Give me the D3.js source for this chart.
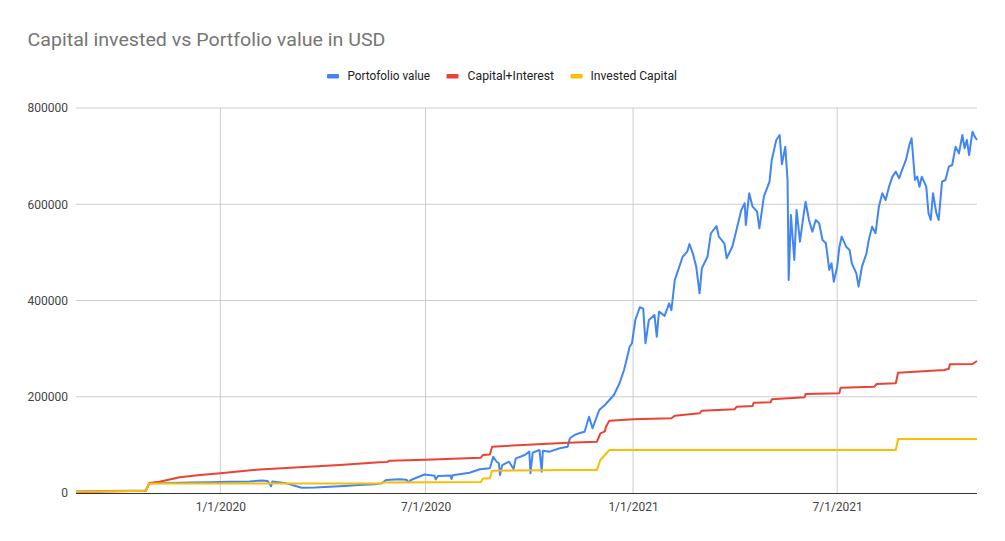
<!DOCTYPE html>
<html>
<head>
<meta charset="utf-8">
<script src="https://cdn.jsdelivr.net/npm/d3@7"></script>
<style>
  body { margin: 0; background: #fff; }
  svg { display: block; font-family: Roboto, Arial, sans-serif; }
</style>
</head>
<body>
<svg id="chart" width="1005" height="541"></svg>
<script>
// series, [date, USD]
const portfolio = [
  ["2019-08-26", 3000], ["2019-10-27", 5000], ["2019-10-30", 20000], ["2019-11-17", 21000],
  ["2019-12-05", 22000], ["2019-12-23", 22500], ["2020-01-09", 23500], ["2020-01-27", 24000],
  ["2020-02-07", 26000], ["2020-02-12", 25000], ["2020-02-15", 14000], ["2020-02-16", 24000],
  ["2020-02-27", 21000], ["2020-03-07", 15000], ["2020-03-13", 11000], ["2020-03-25", 11500],
  ["2020-04-07", 13000], ["2020-04-20", 14500], ["2020-05-03", 16500], ["2020-05-17", 18000],
  ["2020-05-23", 20000], ["2020-05-27", 27000], ["2020-06-08", 28500], ["2020-06-14", 27500],
  ["2020-06-16", 22000], ["2020-06-18", 27000], ["2020-06-30", 38500], ["2020-07-09", 36000],
  ["2020-07-10", 28000], ["2020-07-12", 35500], ["2020-07-23", 36500], ["2020-07-24", 29000],
  ["2020-07-25", 37000], ["2020-08-09", 42200], ["2020-08-18", 49200], ["2020-08-27", 51300],
  ["2020-08-30", 75400], ["2020-09-02", 65000], ["2020-09-04", 61700], ["2020-09-05", 37400],
  ["2020-09-07", 58000], ["2020-09-13", 65000], ["2020-09-17", 50000], ["2020-09-19", 72000],
  ["2020-09-27", 79000], ["2020-10-01", 85900], ["2020-10-02", 41000], ["2020-10-04", 84000],
  ["2020-10-10", 89400], ["2020-10-12", 44300], ["2020-10-13", 88000], ["2020-10-19", 85900],
  ["2020-10-28", 92900], ["2020-11-04", 96200], ["2020-11-06", 113700], ["2020-11-10", 120500],
  ["2020-11-14", 124000], ["2020-11-19", 127400], ["2020-11-23", 158600], ["2020-11-26", 134400],
  ["2020-12-02", 172500], ["2020-12-07", 182900], ["2020-12-11", 193300], ["2020-12-15", 203600],
  ["2020-12-20", 228000], ["2020-12-24", 255600], ["2020-12-29", 304000], ["2020-12-31", 311100],
  ["2021-01-03", 359500], ["2021-01-07", 385900], ["2021-01-10", 383000], ["2021-01-12", 311100],
  ["2021-01-15", 359500], ["2021-01-20", 370000], ["2021-01-22", 324800], ["2021-01-24", 376800],
  ["2021-01-29", 368000], ["2021-02-02", 394200], ["2021-02-04", 380000], ["2021-02-07", 442600],
  ["2021-02-09", 456500], ["2021-02-14", 491000], ["2021-02-18", 501400], ["2021-02-20", 517400],
  ["2021-02-23", 498000], ["2021-02-26", 470300], ["2021-03-01", 415000], ["2021-03-03", 467000],
  ["2021-03-08", 491000], ["2021-03-11", 539700], ["2021-03-16", 554800], ["2021-03-18", 532700],
  ["2021-03-23", 518900], ["2021-03-25", 487700], ["2021-03-30", 511800], ["2021-04-02", 539700],
  ["2021-04-07", 588100], ["2021-04-10", 602000], ["2021-04-11", 556900], ["2021-04-14", 622800],
  ["2021-04-17", 595000], ["2021-04-21", 584600], ["2021-04-23", 550000], ["2021-04-27", 615700],
  ["2021-05-02", 646900], ["2021-05-04", 692000], ["2021-05-08", 733500], ["2021-05-11", 743900],
  ["2021-05-13", 683000], ["2021-05-16", 719600], ["2021-05-18", 650000], ["2021-05-19", 442600],
  ["2021-05-21", 577700], ["2021-05-24", 484200], ["2021-05-26", 588100], ["2021-05-29", 522300],
  ["2021-06-01", 574200], ["2021-06-03", 605300], ["2021-06-06", 567300], ["2021-06-09", 543000],
  ["2021-06-12", 567300], ["2021-06-15", 560400], ["2021-06-18", 525700], ["2021-06-21", 518900],
  ["2021-06-24", 463400], ["2021-06-26", 477300], ["2021-06-28", 439100], ["2021-07-01", 470300],
  ["2021-07-03", 511800], ["2021-07-05", 532700], ["2021-07-09", 511800], ["2021-07-12", 505000],
  ["2021-07-14", 477300], ["2021-07-18", 456500], ["2021-07-20", 428700], ["2021-07-23", 470300],
  ["2021-07-27", 498000], ["2021-07-29", 525700], ["2021-08-01", 553400], ["2021-08-04", 539700],
  ["2021-08-07", 595000], ["2021-08-10", 622800], ["2021-08-13", 608900], ["2021-08-16", 636500],
  ["2021-08-19", 657300], ["2021-08-22", 667700], ["2021-08-25", 654000], ["2021-08-27", 667700],
  ["2021-08-31", 692000], ["2021-09-03", 723100], ["2021-09-05", 737100], ["2021-09-08", 650400],
  ["2021-09-10", 657300], ["2021-09-12", 636500], ["2021-09-14", 657300], ["2021-09-18", 636500],
  ["2021-09-20", 581200], ["2021-09-22", 567300], ["2021-09-24", 622800], ["2021-09-27", 581200],
  ["2021-09-29", 567300], ["2021-10-02", 646900], ["2021-10-05", 650400], ["2021-10-08", 678100],
  ["2021-10-11", 681600], ["2021-10-14", 719600], ["2021-10-17", 705800], ["2021-10-20", 743900],
  ["2021-10-22", 716300], ["2021-10-24", 733500], ["2021-10-26", 702300], ["2021-10-29", 750800],
  ["2021-10-31", 740400], ["2021-11-02", 733500]
];

const capitalInterest = [
  ["2019-08-26", 2000], ["2019-10-27", 4500], ["2019-10-30", 21000], ["2019-11-08", 23500],
  ["2019-11-26", 32600], ["2019-12-14", 37400], ["2020-01-01", 41000], ["2020-02-05", 49000],
  ["2020-03-11", 53400], ["2020-04-16", 58000], ["2020-05-21", 63800], ["2020-05-28", 64500],
  ["2020-05-30", 67000], ["2020-07-01", 69000], ["2020-08-19", 73400], ["2020-08-21", 79000],
  ["2020-08-27", 80000], ["2020-08-29", 96200], ["2020-11-04", 104500], ["2020-11-30", 106600],
  ["2020-12-03", 124000], ["2020-12-07", 128000], ["2020-12-08", 138000], ["2020-12-11", 150200],
  ["2021-01-01", 153100], ["2021-02-04", 155200], ["2021-02-07", 160600], ["2021-03-01", 165600],
  ["2021-03-03", 171000], ["2021-04-01", 174000], ["2021-04-03", 179300], ["2021-04-17", 181000],
  ["2021-04-18", 187700], ["2021-05-03", 188500], ["2021-05-04", 194700], ["2021-06-02", 198900],
  ["2021-06-03", 205700], ["2021-07-03", 207500], ["2021-07-04", 218800], ["2021-08-03", 221000],
  ["2021-08-05", 226500], ["2021-08-22", 228000], ["2021-08-24", 250000], ["2021-09-08", 252000],
  ["2021-10-04", 255600], ["2021-10-08", 258000], ["2021-10-09", 267400], ["2021-10-29", 268000],
  ["2021-11-02", 274300]
];

const investedCapital = [
  ["2019-08-26", 2500], ["2019-10-27", 4500], ["2019-10-30", 20000], ["2020-05-22", 20000],
  ["2020-05-24", 22000], ["2020-08-19", 23000], ["2020-08-21", 30000], ["2020-08-27", 30500],
  ["2020-08-29", 46300], ["2020-11-07", 47800], ["2020-11-30", 48000], ["2020-12-03", 68600],
  ["2020-12-07", 79000], ["2020-12-11", 89400], ["2021-08-22", 89400], ["2021-08-24", 112200],
  ["2021-11-02", 112200]
];

const seriesNames = ["Portofolio value", "Capital+Interest", "Invested Capital"];
const seriesColors = ["#4285f4", "#ea4335", "#fbbc04"];
const yTicks = [0, 200000, 400000, 600000, 800000];
const xTicks = ["2020-01-01", "2020-07-01", "2021-01-01", "2021-07-01"];
const dateRange = ["2019-08-26", "2021-11-02"];

const parse = d3.timeParse("%Y-%m-%d");
const seriesData = [portfolio, capitalInterest, investedCapital]
  .map(s => s.map(([d, v]) => ({ date: parse(d), value: v })));

const svg = d3.select("#chart");
svg.append("rect").attr("width", 1005).attr("height", 541).attr("fill", "#fff");

const plotLeft = 76, plotRight = 977, plotTop = 108, plotBottom = 493;

const x = d3.scaleTime()
  .domain(dateRange.map(parse))
  .range([plotLeft, plotRight]);

const y = d3.scaleLinear()
  .domain([0, 800000])
  .range([plotBottom, plotTop]);

// Title
svg.append("text")
  .attr("x", 27.5)
  .attr("y", 45.5)
  .attr("font-size", "18.5px")
  .attr("fill", "#757575")
  .attr("textLength", 358)
  .attr("lengthAdjust", "spacingAndGlyphs")
  .text("Capital invested vs Portfolio value in USD");

// Legend (centred row above the plot)
const legendItems = [
  { swatch: 327, textX: 347.5, width: 82.5 },
  { swatch: 446.5, textX: 467.5, width: 86.5 },
  { swatch: 570.5, textX: 590.5, width: 86.5 }
];
const legend = svg.append("g");
legendItems.forEach((it, i) => {
  legend.append("rect")
    .attr("x", it.swatch).attr("y", 74)
    .attr("width", 12).attr("height", 4.5).attr("rx", 1)
    .attr("fill", seriesColors[i]);
  legend.append("text")
    .attr("x", it.textX).attr("y", 80)
    .attr("font-size", "12px")
    .attr("fill", "#222")
    .attr("textLength", it.width)
    .attr("lengthAdjust", "spacingAndGlyphs")
    .text(seriesNames[i]);
});

// Horizontal gridlines
svg.append("g")
  .selectAll("line")
  .data(yTicks.slice(1))
  .join("line")
  .attr("x1", plotLeft).attr("x2", plotRight)
  .attr("y1", d => y(d)).attr("y2", d => y(d))
  .attr("stroke", "#cccccc").attr("stroke-width", 1);

// Vertical gridlines
svg.append("g")
  .selectAll("line")
  .data(xTicks.map(parse))
  .join("line")
  .attr("x1", d => x(d)).attr("x2", d => x(d))
  .attr("y1", plotTop).attr("y2", plotBottom)
  .attr("stroke", "#cccccc").attr("stroke-width", 1);

// Y axis labels
const yAxis = svg.append("g")
  .attr("transform", `translate(${plotLeft},0)`)
  .call(d3.axisLeft(y).tickValues(yTicks).tickFormat(d3.format("d")).tickSize(0).tickPadding(8));
yAxis.select(".domain").remove();
yAxis.selectAll("text")
  .attr("font-size", "12px")
  .attr("font-family", "Roboto, Arial, sans-serif")
  .attr("fill", "#444");

// X axis labels
const xAxis = svg.append("g")
  .attr("transform", `translate(0,${plotBottom})`)
  .call(d3.axisBottom(x).tickValues(xTicks.map(parse)).tickFormat(d3.timeFormat("%-m/%-d/%Y")).tickSize(0).tickPadding(9));
xAxis.select(".domain").remove();
xAxis.selectAll("text")
  .attr("font-size", "12px")
  .attr("font-family", "Roboto, Arial, sans-serif")
  .attr("fill", "#444");

// Lines
const line = d3.line()
  .x(d => x(d.date))
  .y(d => y(d.value));

seriesData.forEach((s, i) => {
  svg.append("path")
    .datum(s)
    .attr("fill", "none")
    .attr("stroke", seriesColors[i])
    .attr("stroke-width", 2)
    .attr("stroke-linejoin", "round")
    .attr("d", line);
});

// Baseline
svg.append("line")
  .attr("x1", plotLeft).attr("x2", plotRight)
  .attr("y1", y(0) + 0.5).attr("y2", y(0) + 0.5)
  .attr("stroke", "#333").attr("stroke-width", 1);
</script>
</body>
</html>
